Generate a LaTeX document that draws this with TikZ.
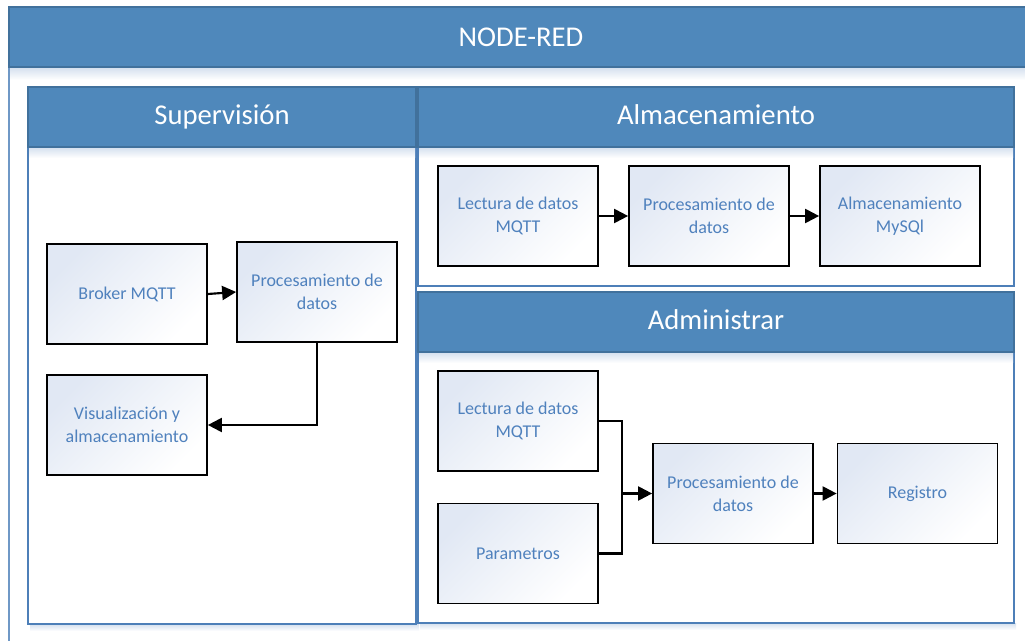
\documentclass[tikz,border=0pt]{standalone}
\usepackage{fontspec}
\setmainfont{Carlito}
\usetikzlibrary{arrows.meta}
\definecolor{hdr}{HTML}{4F88BB}
\definecolor{hdrline}{HTML}{41719C}
\definecolor{pline}{HTML}{4D7FB8}
\definecolor{oline}{HTML}{6F98C6}
\definecolor{txt}{HTML}{4F81BD}
\definecolor{boxtint}{HTML}{E1E8F4}
\definecolor{shadowc}{HTML}{D3DFEE}
\begin{document}
\begin{tikzpicture}[x=0.75pt,y=-0.75pt,
  box/.style={draw=black, line width=1.3pt, minimum width=120pt, minimum height=75pt,
    inner sep=2pt, align=center, text=txt, font=\fontsize{13.5}{17}\selectfont,
    left color=boxtint, middle color=white!65!boxtint, right color=white, shading angle=45},
  conn/.style={line width=1.6pt, -{Triangle[length=10.5pt,width=10.5pt]}},
  plain/.style={line width=1.6pt},
  ttl/.style={text=white, font=\fontsize{21.5}{24}\selectfont, anchor=base},
  panel/.style={draw=pline, line width=1.2pt, fill=white},
  header/.style={draw=hdrline, line width=1.2pt, fill=hdr},
  hshadow/.style={top color=shadowc, bottom color=white}]
\useasboundingbox (0,0) rectangle (1025,641);
\clip (0,0) rectangle (1025,641);
% outer container
\draw[draw=oline, line width=1pt, fill=white] (9,67) rectangle (1040,660);
\shade[hshadow] (10,67) rectangle (1040,80);
\draw[header, line width=1pt] (9,7) rectangle (1040,67);
\node[ttl] (tnr) at (521,47) {NODE-RED};
% panel shadows
\shade[hshadow] (30,624) rectangle (419,631);
\shade[hshadow] (420,623) rectangle (1016,630);
% Supervision panel
\draw[panel] (28,87) rectangle (416,624);
\shade[hshadow] (29,147) rectangle (415,158);
\draw[header] (28,87) rectangle (416,147);
\node[ttl] (tsup) at (222,125) {Supervisión};
% Almacenamiento panel
\draw[panel] (418,87) rectangle (1014,286);
\shade[hshadow] (419,147) rectangle (1013,158);
\draw[header] (418,87) rectangle (1014,147);
\node[ttl] (talm) at (716,125) {Almacenamiento};
% Administrar panel
\draw[panel] (418,292) rectangle (1014,623);
\shade[hshadow] (419,352) rectangle (1013,363);
\draw[header] (418,292) rectangle (1014,352);
\node[ttl] (tadm) at (716,330) {Administrar};
% Supervision boxes
\node[box] (sb) at (127,294) {Broker MQTT};
\node[box] (sp) at (317,292) {Procesamiento de\\datos};
\node[box] (sv) at (127,425) {Visualización y\\almacenamiento};
\draw[conn] (sb.east) -- (sp.west);
\draw[conn] (sp.south) |- (sv.east);
% Almacenamiento boxes
\node[box] (al) at (518,216) {Lectura de datos\\MQTT};
\node[box] (ap) at (709,216) {Procesamiento de\\datos};
\node[box] (am) at (900,216) {Almacenamiento\\MySQl};
\draw[conn] (al.east) -- (ap.west);
\draw[conn] (ap.east) -- (am.west);
% Administrar boxes
\node[box] (dl) at (518,421) {Lectura de datos\\MQTT};
\node[box] (dpar) at (518,553.5) {Parametros};
\node[box] (dp) at (733,493.5) {Procesamiento de\\datos};
\node[box] (dr) at (917.5,493.5) {Registro};
\coordinate (dj) at (622,493.5);
\draw[plain] (dl.east) -| (dj);
\draw[plain] (dpar.east) -| (dj);
\draw[conn] (dj) -- (dp.west);
\draw[conn] (dp.east) -- (dr.west);
\end{tikzpicture}
\end{document}
